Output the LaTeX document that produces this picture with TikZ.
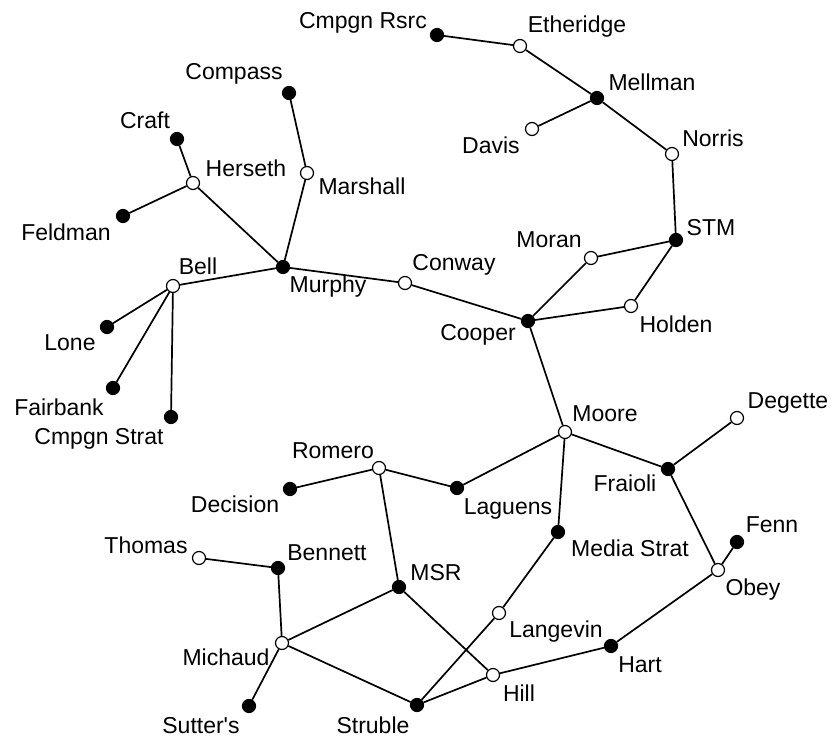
\documentclass[tikz,border=0pt]{standalone}
\usepackage{fontspec}
\setmainfont{Liberation Sans}
\begin{document}
\begin{tikzpicture}[x=1pt,y=-1pt,
  vtx/.style={circle,draw=black,line width=1.2pt,minimum size=13pt,inner sep=0pt},
  full/.style={vtx,fill=black},
  hollow/.style={vtx,fill=white},
  lbl/.style={inner sep=0pt,text height=16pt,text depth=0pt,anchor=center,font=\fontsize{23}{27}\selectfont},
  edge/.style={line width=1.7pt,draw=black}]
\useasboundingbox (0,0) rectangle (831,738);
% vertices
\node[full]   (cmpgnrsrc)  at (437,35)  {};
\node[hollow] (etheridge)  at (520,46)  {};
\node[full]   (mellman)    at (597,98)  {};
\node[hollow] (davis)      at (532,129) {};
\node[hollow] (norris)     at (672,154) {};
\node[full]   (stm)        at (676,240) {};
\node[hollow] (moran)      at (591,258) {};
\node[hollow] (holden)     at (631,306) {};
\node[full]   (cooper)     at (528,321) {};
\node[hollow] (conway)     at (405,283) {};
\node[full]   (murphy)     at (283,267) {};
\node[full]   (compass)    at (289,93)  {};
\node[hollow] (marshall)   at (307,173) {};
\node[full]   (craft)      at (177,139) {};
\node[hollow] (herseth)    at (193,183) {};
\node[full]   (feldman)    at (123,216) {};
\node[hollow] (bell)       at (173,286) {};
\node[full]   (lone)       at (107,327) {};
\node[full]   (fairbank)   at (113,388) {};
\node[full]   (cmpgnstrat) at (171,417) {};
\node[hollow] (moore)      at (565,432) {};
\node[hollow] (degette)    at (737,418) {};
\node[full]   (fraioli)    at (668,469) {};
\node[hollow] (romero)     at (379,468) {};
\node[full]   (laguens)    at (457,488) {};
\node[full]   (decision)   at (290,489) {};
\node[full]   (mediastrat) at (558,532) {};
\node[full]   (fenn)       at (737,542) {};
\node[hollow] (obey)       at (718,570) {};
\node[hollow] (thomas)     at (199,558) {};
\node[full]   (bennett)    at (278,568) {};
\node[full]   (msr)        at (399,587) {};
\node[hollow] (langevin)   at (499,613) {};
\node[hollow] (michaud)    at (282,643) {};
\node[full]   (hart)       at (611,646) {};
\node[hollow] (hill)       at (493,675) {};
\node[full]   (struble)    at (417,705) {};
\node[full]   (sutters)    at (249,706) {};
% edges
\foreach \a/\b in {cmpgnrsrc/etheridge, etheridge/mellman, mellman/davis, mellman/norris,
  norris/stm, stm/moran, stm/holden, moran/cooper, holden/cooper, cooper/conway,
  conway/murphy, murphy/marshall, marshall/compass, murphy/herseth, herseth/craft,
  herseth/feldman, murphy/bell, bell/lone, bell/fairbank, bell/cmpgnstrat,
  cooper/moore, moore/laguens, moore/fraioli, moore/mediastrat, fraioli/degette,
  fraioli/obey, obey/fenn, obey/hart, hart/hill, hill/struble, hill/msr,
  romero/laguens, romero/decision, romero/msr, msr/michaud, bennett/thomas,
  bennett/michaud, michaud/sutters, michaud/struble, struble/langevin, langevin/mediastrat}
  \draw[edge] (\a) -- (\b);
% labels
\node[lbl] (l-cmpgnrsrc)  at (363,21)  {Cmpgn Rsrc};
\node[lbl] (l-etheridge)  at (577,25)  {Etheridge};
\node[lbl] (l-mellman)    at (652,83)  {Mellman};
\node[lbl] (l-davis)      at (491,146) {Davis};
\node[lbl] (l-norris)     at (713,139) {Norris};
\node[lbl] (l-stm)        at (711,228) {STM};
\node[lbl] (l-moran)      at (549,240) {Moran};
\node[lbl] (l-conway)     at (454,263) {Conway};
\node[lbl] (l-holden)     at (676,325) {Holden};
\node[lbl] (l-cooper)     at (478,333) {Cooper};
\node[lbl] (l-murphy)     at (328,285) {Murphy};
\node[lbl] (l-compass)    at (234,72)  {Compass};
\node[lbl] (l-craft)      at (145,121) {Craft};
\node[lbl] (l-herseth)    at (246,169) {Herseth};
\node[lbl] (l-marshall)   at (362,187) {Marshall};
\node[lbl] (l-feldman)    at (66,233)  {Feldman};
\node[lbl] (l-bell)       at (198,267) {Bell};
\node[lbl] (l-lone)       at (70,343)  {Lone};
\node[lbl] (l-fairbank)   at (59,408)  {Fairbank};
\node[lbl] (l-cmpgnstrat) at (99,436)  {Cmpgn Strat};
\node[lbl] (l-moore)      at (605,413) {Moore};
\node[lbl] (l-degette)    at (788,400) {Degette};
\node[lbl] (l-fraioli)    at (625,483) {Fraioli};
\node[lbl] (l-romero)     at (333,450) {Romero};
\node[lbl] (l-laguens)    at (508,506) {Laguens};
\node[lbl] (l-decision)   at (235,504) {Decision};
\node[lbl] (l-mediastrat) at (630,548) {Media Strat};
\node[lbl] (l-fenn)       at (772,524) {Fenn};
\node[lbl] (l-obey)       at (753,587) {Obey};
\node[lbl] (l-thomas)     at (146,545) {Thomas};
\node[lbl] (l-bennett)    at (327,552) {Bennett};
\node[lbl] (l-msr)        at (436,572) {MSR};
\node[lbl] (l-langevin)   at (556,629) {Langevin};
\node[lbl] (l-michaud)    at (226,657) {Michaud};
\node[lbl] (l-hart)       at (640,664) {Hart};
\node[lbl] (l-hill)       at (519,693) {Hill};
\node[lbl] (l-struble)    at (373,725) {Struble};
\node[lbl] (l-sutters)    at (201,725) {Sutter\textquotesingle s};
\end{tikzpicture}
\end{document}
